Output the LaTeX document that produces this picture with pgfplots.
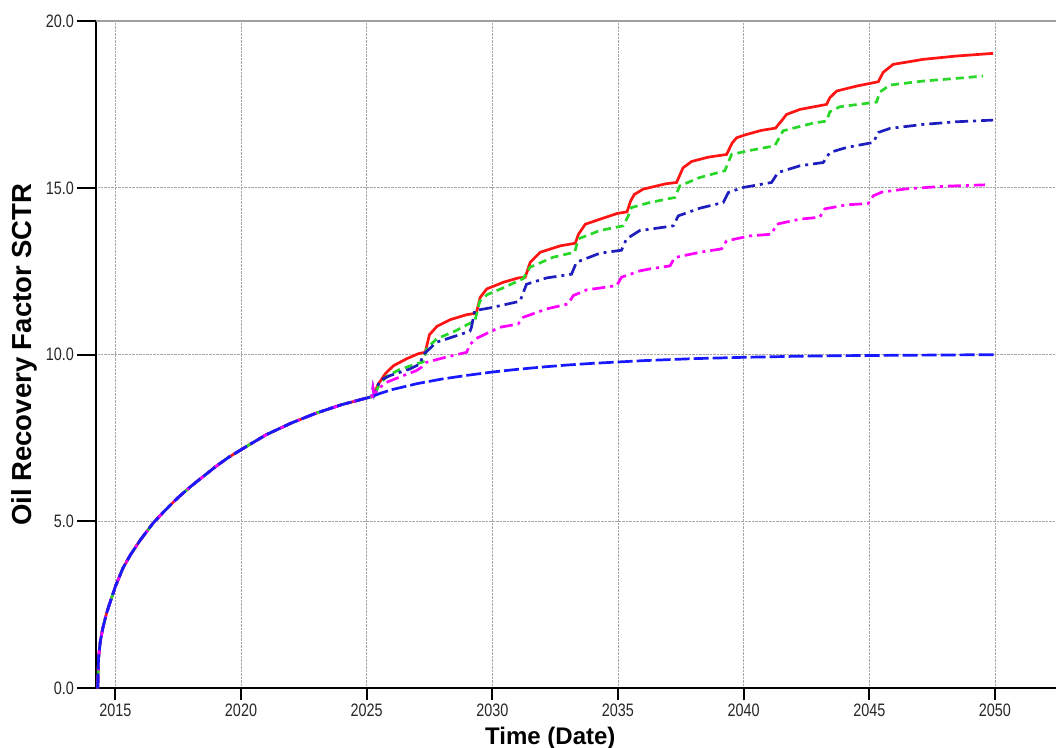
\documentclass[border=0pt]{standalone}
\usepackage{pgfplots}
\pgfplotsset{compat=1.18}
\usepackage{fontspec}
\setmainfont{Liberation Sans}
\newfontfamily\ticknarrow[FakeStretch=0.8]{Liberation Sans}
\definecolor{cRed}{RGB}{255,20,20}
\definecolor{cGreen}{RGB}{40,215,40}
\definecolor{cDkBlue}{RGB}{30,30,190}
\definecolor{cMag}{RGB}{255,0,255}
\definecolor{cBlue}{RGB}{25,25,255}
\begin{document}
\begin{tikzpicture}
\begin{axis}[
  scale only axis, width=959.5pt, height=667.3pt,
  xmin=2014.25, xmax=2052.43, ymin=0, ymax=20,
  clip=false,
  xtick={2015,2020,...,2050}, ytick={0,5,...,20},
  /pgf/number format/assume math mode=true,
  xticklabel style={/pgf/number format/set thousands separator={}},
  yticklabel style={/pgf/number format/.cd, fixed, fixed zerofill, precision=1,
                    /tikz/.cd, xshift=-7pt},
  ticklabel style={font=\ticknarrow\fontsize{18}{20}\selectfont, text=black!85},
  axis x line*=bottom, axis y line*=left,
  axis line style={-, line width=2pt, black},
  tick align=outside, major tick length=12pt,
  tick style={line width=2pt, black},
  ytick style={draw=none},
  grid=major, grid style={densely dotted, gray!70, line width=0.8pt},
  xlabel={Time (Date)},
  xlabel style={at={(axis description cs:0.473,-0.0835)}, anchor=base, inner sep=0pt,
                font=\bfseries\fontsize{24}{24}\selectfont},
  ylabel={Oil Recovery Factor SCTR},
  ylabel style={at={(axis description cs:-0.0675,0.5)}, anchor=base, inner sep=0pt,
                font=\bfseries\fontsize{27.5}{28}\selectfont},
  every axis plot/.append style={line width=2.7pt},
]
\draw[gray!75, line width=1.5pt] (rel axis cs:0,1) -- (rel axis cs:1,1);
\pgfplotsinvokeforeach{0,5,10,15,20}{
  \draw[black, line width=2pt] (axis cs:2014.25,#1) -- ++(-19pt,0pt);
}
% red, solid
\addplot[cRed, solid] coordinates {
 (2014.30,0) (2014.33,0.9) (2014.40,1.4) (2014.50,1.8) (2014.65,2.25) (2014.80,2.6)
 (2015.0,3.05) (2015.3,3.6) (2015.6,4.0) (2016.0,4.45) (2016.5,4.95) (2017.0,5.35)
 (2017.5,5.72) (2018.0,6.05) (2018.5,6.35) (2019.0,6.65) (2019.5,6.92) (2020.0,7.15)
 (2021.0,7.6) (2022.0,7.95) (2023.0,8.25) (2024.0,8.5) (2025.0,8.7) (2025.2,8.74)
 (2025.27,8.76) (2025.45,9.1) (2025.74,9.43) (2026.07,9.67) (2026.6,9.88) (2027.06,10.03)
 (2027.33,10.07) (2027.5,10.6) (2027.8,10.85) (2028.33,11.05) (2028.99,11.2) (2029.36,11.24)
 (2029.52,11.72) (2029.78,11.97) (2030.44,12.17) (2031.04,12.3) (2031.31,12.32)
 (2031.51,12.77) (2031.91,13.07) (2032.7,13.26) (2033.3,13.34) (2033.43,13.61)
 (2033.7,13.91) (2034.29,14.06) (2034.96,14.23) (2035.36,14.28) (2035.5,14.6)
 (2035.65,14.8) (2036.0,14.96) (2036.9,15.12) (2037.33,15.16) (2037.59,15.6)
 (2037.93,15.79) (2038.6,15.92) (2039.32,16.0) (2039.55,16.35) (2039.72,16.5)
 (2040.12,16.6) (2040.7,16.72) (2041.27,16.79) (2041.5,17.0) (2041.71,17.2)
 (2042.24,17.35) (2043.3,17.5) (2043.43,17.7) (2043.7,17.9) (2044.5,18.05)
 (2045.36,18.18) (2045.55,18.46) (2045.95,18.7) (2047.14,18.85) (2048.47,18.95)
 (2049.93,19.03)};
% green, dashed
\addplot[cGreen, dash pattern=on 8pt off 5pt] coordinates {
 (2014.30,0) (2014.33,0.9) (2014.40,1.4) (2014.50,1.8) (2014.65,2.25) (2014.80,2.6)
 (2015.0,3.05) (2015.3,3.6) (2015.6,4.0) (2016.0,4.45) (2016.5,4.95) (2017.0,5.35)
 (2017.5,5.72) (2018.0,6.05) (2018.5,6.35) (2019.0,6.65) (2019.5,6.92) (2020.0,7.15)
 (2021.0,7.6) (2022.0,7.95) (2023.0,8.25) (2024.0,8.5) (2025.0,8.7) (2025.2,8.74)
 (2025.3,8.76) (2025.5,9.1) (2025.8,9.35) (2026.3,9.55) (2027.0,9.73) (2027.25,9.78)
 (2027.4,10.2) (2027.8,10.48) (2028.5,10.7) (2029.0,10.9) (2029.3,11.0) (2029.5,11.6)
 (2029.8,11.8) (2030.43,12.0) (2031.23,12.28) (2031.5,12.62) (2032.42,12.92)
 (2033.28,13.07) (2033.42,13.47) (2034.28,13.72) (2035.21,13.86) (2035.41,14.16)
 (2035.54,14.41) (2036.27,14.56) (2037.26,14.71) (2037.46,15.06) (2038.26,15.31)
 (2039.25,15.51) (2039.52,16.0) (2040.25,16.12) (2041.24,16.26) (2041.57,16.71)
 (2042.77,16.94) (2043.3,17.0) (2043.43,17.28) (2043.83,17.43) (2045.29,17.57)
 (2045.42,17.87) (2045.82,18.08) (2047.14,18.2) (2048.47,18.28) (2049.53,18.35)};
% dark blue, dash-dot
\addplot[cDkBlue, dash pattern=on 13pt off 5pt on 3pt off 5pt] coordinates {
 (2014.30,0) (2014.33,0.9) (2014.40,1.4) (2014.50,1.8) (2014.65,2.25) (2014.80,2.6)
 (2015.0,3.05) (2015.3,3.6) (2015.6,4.0) (2016.0,4.45) (2016.5,4.95) (2017.0,5.35)
 (2017.5,5.72) (2018.0,6.05) (2018.5,6.35) (2019.0,6.65) (2019.5,6.92) (2020.0,7.15)
 (2021.0,7.6) (2022.0,7.95) (2023.0,8.25) (2024.0,8.5) (2025.0,8.7) (2025.2,8.74)
 (2025.25,9.0) (2025.3,8.8) (2025.52,9.22) (2025.92,9.37) (2026.72,9.57) (2027.12,9.72)
 (2027.25,10.0) (2027.78,10.37) (2028.58,10.57) (2029.11,10.7) (2029.17,10.82)
 (2029.3,11.32) (2029.9,11.4) (2031.1,11.6) (2031.36,12.11) (2032.16,12.3)
 (2033.15,12.41) (2033.35,12.77) (2034.28,13.04) (2035.14,13.13) (2035.34,13.47)
 (2035.87,13.72) (2036.27,13.76) (2037.2,13.86) (2037.4,14.16) (2038.26,14.39)
 (2039.19,14.56) (2039.39,14.86) (2039.98,15.01) (2041.11,15.16) (2041.37,15.46)
 (2042.24,15.66) (2043.17,15.76) (2043.43,16.06) (2044.1,16.21) (2045.16,16.36)
 (2045.36,16.66) (2045.82,16.78) (2047.14,16.9) (2048.47,16.98) (2049.93,17.03)};
% magenta, dash-dot
\addplot[cMag, dash pattern=on 13pt off 5pt on 3pt off 5pt] coordinates {
 (2014.30,0) (2014.33,0.9) (2014.40,1.4) (2014.50,1.8) (2014.65,2.25) (2014.80,2.6)
 (2015.0,3.05) (2015.3,3.6) (2015.6,4.0) (2016.0,4.45) (2016.5,4.95) (2017.0,5.35)
 (2017.5,5.72) (2018.0,6.05) (2018.5,6.35) (2019.0,6.65) (2019.5,6.92) (2020.0,7.15)
 (2021.0,7.6) (2022.0,7.95) (2023.0,8.25) (2024.0,8.5) (2025.0,8.7) (2025.2,8.74)
 (2025.25,9.0) (2025.3,8.8) (2025.5,9.0) (2025.79,9.17) (2026.45,9.37) (2026.98,9.52)
 (2027.18,9.62) (2027.38,9.77) (2028.18,9.93) (2028.98,10.07) (2029.1,10.3)
 (2029.4,10.5) (2030.3,10.82) (2031.03,10.92) (2031.23,11.12) (2032.16,11.37)
 (2033.02,11.52) (2033.22,11.77) (2033.75,11.94) (2034.95,12.07) (2035.14,12.32)
 (2035.87,12.51) (2036.27,12.57) (2037.07,12.66) (2037.26,12.91) (2038.26,13.07)
 (2039.12,13.17) (2039.32,13.41) (2040.25,13.56) (2041.11,13.61) (2041.31,13.91)
 (2042.24,14.06) (2043.03,14.12) (2043.23,14.37) (2044.1,14.49) (2044.96,14.53)
 (2045.16,14.76) (2045.49,14.87) (2046.48,14.97) (2048.08,15.05) (2049.6,15.09)};
% blue, long dash (base case)
\addplot[cBlue, dash pattern=on 15pt off 4pt] coordinates {
 (2014.30,0) (2014.33,0.9) (2014.40,1.4) (2014.50,1.8) (2014.65,2.25) (2014.80,2.6)
 (2015.0,3.05) (2015.3,3.6) (2015.6,4.0) (2016.0,4.45) (2016.5,4.95) (2017.0,5.35)
 (2017.5,5.72) (2018.0,6.05) (2018.5,6.35) (2019.0,6.65) (2019.5,6.92) (2020.0,7.15)
 (2021.0,7.6) (2022.0,7.95) (2023.0,8.25) (2024.0,8.5) (2025.0,8.7) (2025.2,8.74)
 (2025.5,8.83) (2026.0,8.95) (2027.0,9.13) (2028.0,9.27) (2029.0,9.38) (2030.0,9.48)
 (2031.0,9.56) (2032.0,9.63) (2033.0,9.69) (2034.0,9.74) (2035.0,9.78) (2036.0,9.82)
 (2037.0,9.85) (2038.0,9.88) (2039.0,9.9) (2040.0,9.92) (2042.0,9.95) (2044.0,9.97)
 (2046.0,9.98) (2048.0,9.99) (2050.0,10.0)};
\end{axis}
\pgfresetboundingbox
\path[use as bounding box] (-96.5pt,-58.7pt) rectangle (959.5pt,688.3pt);
\end{tikzpicture}
\end{document}
